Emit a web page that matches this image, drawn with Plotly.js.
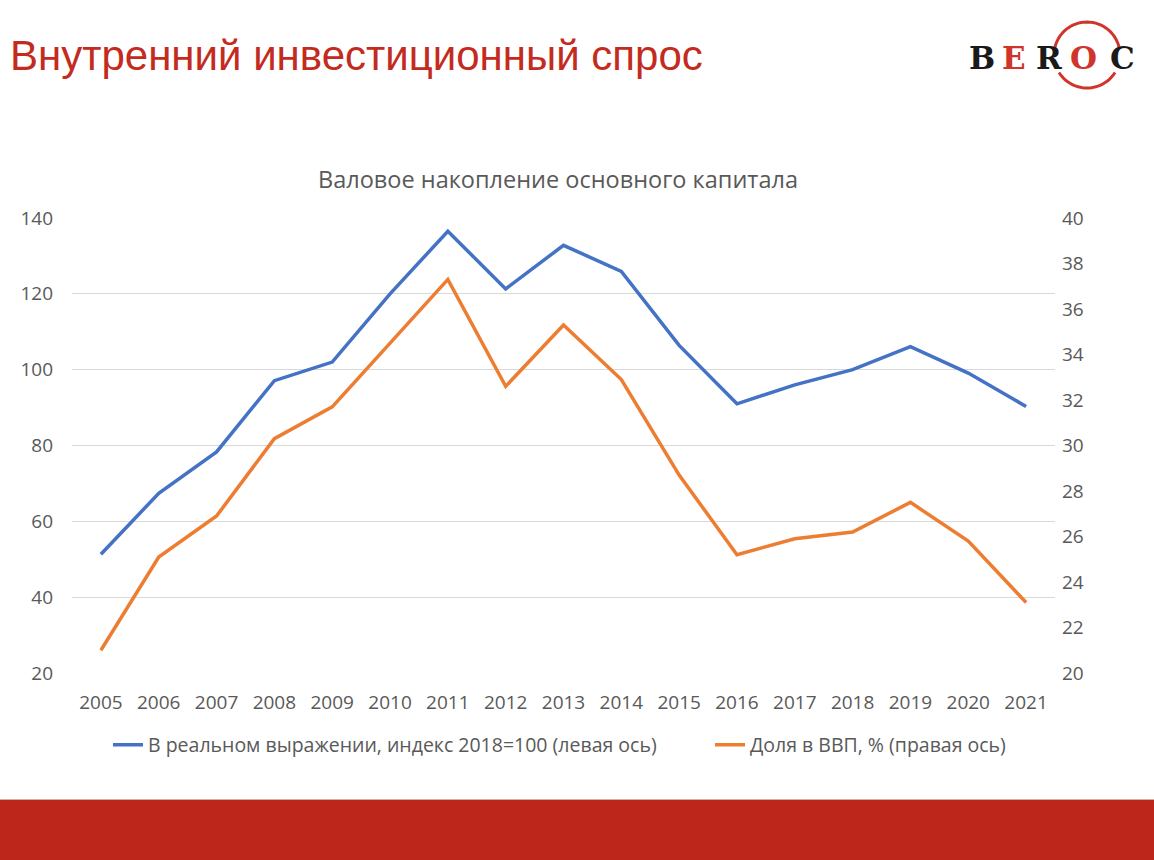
<!DOCTYPE html>
<html>
<head>
<meta charset="utf-8">
<script src="https://cdn.plot.ly/plotly-3.0.1.min.js"></script>
<style>
  html, body { margin: 0; padding: 0; background: #ffffff; }
  #chart { width: 1154px; height: 860px; }
</style>
</head>
<body>
<div id="chart"></div>
<script>
// ---- Data ----
const years = ['2005','2006','2007','2008','2009','2010','2011','2012','2013','2014','2015','2016','2017','2018','2019','2020','2021'];
const realIndex = [51.3, 67.4, 78.3, 97.1, 102.0, 120.0, 136.5, 121.3, 132.8, 125.9, 106.4, 91.0, 96.0, 100.0, 106.1, 99.1, 90.3];
const shareGDP = [21.0, 25.1, 26.9, 30.3, 31.7, 34.5, 37.3, 32.6, 35.3, 32.9, 28.7, 25.2, 25.9, 26.2, 27.5, 25.8, 23.1];
const seriesNames = ['В реальном выражении, индекс 2018=100 (левая ось)', 'Доля в ВВП, % (правая ось)'];
const pageTitle = 'Внутренний инвестиционный спрос';
const chartTitle = 'Валовое накопление основного капитала';
const logoLetters = ['B', 'E', 'R', 'O', 'C'];
const logoColors = ['#1a1a1a', '#d0342a', '#1a1a1a', '#d0342a', '#1a1a1a'];

// ---- Geometry helpers (pixel -> paper) ----
const W = 1154, H = 860;
const M = { l: 72, r: 99, t: 218, b: 187 };
const PW = W - M.l - M.r, PH = H - M.t - M.b;
const px = X => (X - M.l) / PW;
const py = Y => (H - M.b - Y) / PH;

const grey = '#595959';
const font = '"Open Sans", "Noto Sans", sans-serif';

const traces = [
  {
    x: years, y: realIndex, name: seriesNames[0], type: 'scatter', mode: 'lines',
    line: { color: '#4472C4', width: 3.5 }, yaxis: 'y', legend: 'legend'
  },
  {
    x: years, y: shareGDP, name: seriesNames[1], type: 'scatter', mode: 'lines',
    line: { color: '#ED7D31', width: 3.5 }, yaxis: 'y2', legend: 'legend2'
  }
];

// Logo arcs (decoration)
function arcPath(cx, cy, r, a0, a1) {
  let d = '';
  const n = 30;
  for (let i = 0; i <= n; i++) {
    const a = (a0 + (a1 - a0) * i / n) * Math.PI / 180;
    const X = cx + r * Math.cos(a), Y = cy - r * Math.sin(a);
    d += (i === 0 ? 'M' : 'L') + px(X).toFixed(5) + ',' + py(Y).toFixed(5);
  }
  return d;
}
const cx = 1087, cy = 55, cr = 33;

const shapes = [
  { type: 'rect', xref: 'paper', yref: 'paper', x0: px(0), x1: px(W), y0: py(H), y1: py(800),
    fillcolor: '#BD261B', line: { width: 0 }, layer: 'below' },
  { type: 'line', xref: 'paper', yref: 'paper', x0: px(0), x1: px(W), y0: py(799.5), y1: py(799.5),
    line: { color: '#c9b3a8', width: 1 } },
  { type: 'path', xref: 'paper', yref: 'paper', path: arcPath(cx, cy, cr, 14, 166),
    line: { color: '#d0342a', width: 3 } },
  { type: 'path', xref: 'paper', yref: 'paper', path: arcPath(cx, cy, cr, 212, 328),
    line: { color: '#d0342a', width: 3 } }
];

const letterX = [982, 1014, 1049, 1083, 1122];
const annotations = [
  { text: pageTitle, xref: 'paper', yref: 'paper', x: px(8), y: py(56), xanchor: 'left', yanchor: 'middle',
    showarrow: false, font: { family: '"Liberation Sans", Arial, sans-serif', size: 42, color: '#C42B20' } }
];
logoLetters.forEach((l, i) => {
  annotations.push({ text: '<b>' + l + '</b>', xref: 'paper', yref: 'paper', x: px(letterX[i]), y: py(58),
    xanchor: 'center', yanchor: 'middle', showarrow: false,
    font: { family: '"DejaVu Serif", "Liberation Serif", serif', size: 31, color: logoColors[i] } });
});

const legendCommon = { orientation: 'h', yanchor: 'middle', y: py(745), xanchor: 'left',
  font: { family: font, size: 19.5, color: grey }, itemwidth: 30, bgcolor: 'rgba(0,0,0,0)', borderwidth: 0 };

const layout = {
  width: W, height: H,
  margin: M,
  paper_bgcolor: '#ffffff', plot_bgcolor: '#ffffff',
  font: { family: font, color: grey, size: 19 },
  title: { text: chartTitle, x: 558 / W, xanchor: 'center', y: 1 - 180 / H, yanchor: 'middle',
    yref: 'container', xref: 'container', font: { family: font, size: 23.5, color: grey } },
  showlegend: true,
  legend: Object.assign({}, legendCommon, { x: px(108) }),
  legend2: Object.assign({}, legendCommon, { x: px(710) }),
  xaxis: {
    type: 'category', range: [-0.5, years.length - 0.5], showgrid: false, zeroline: false, showline: false, ticks: '',
    tickfont: { family: font, size: 19, color: grey }, ticklabelstandoff: 16, fixedrange: true
  },
  yaxis: {
    range: [20, 140], dtick: 20, tick0: 20, showgrid: true, gridcolor: '#d9d9d9', gridwidth: 1,
    zeroline: false, showline: false, ticks: '', ticklabelstandoff: 18,
    tickfont: { family: font, size: 19, color: grey }
  },
  yaxis2: {
    range: [20, 40], dtick: 2, tick0: 20, overlaying: 'y', side: 'right', showgrid: false,
    zeroline: false, showline: false, ticks: '', ticklabelstandoff: 6,
    tickfont: { family: font, size: 19, color: grey }
  },
  shapes: shapes,
  annotations: annotations
};

Plotly.newPlot('chart', traces, layout, { displayModeBar: false, staticPlot: true });
</script>
</body>
</html>
